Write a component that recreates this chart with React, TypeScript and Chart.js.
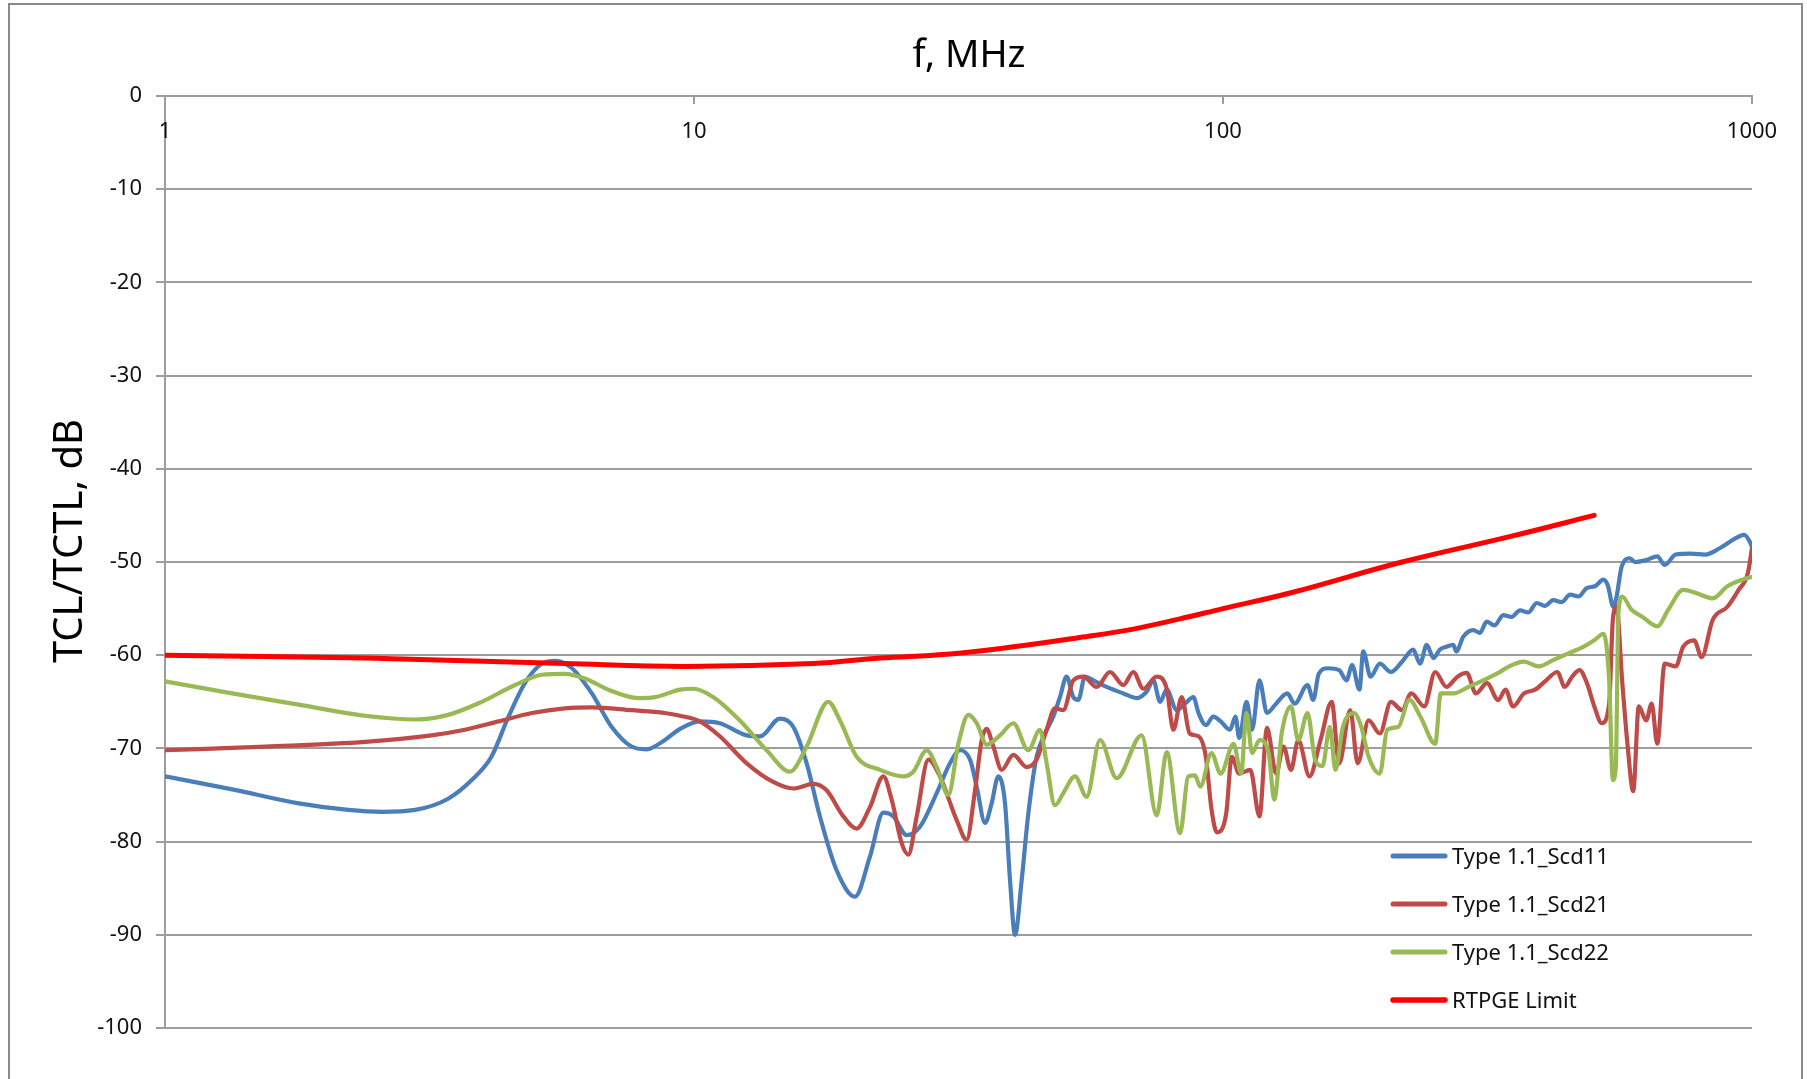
import React, { useEffect, useRef } from "react";
import { Chart, registerables } from "chart.js";

Chart.register(...registerables);

// ---------- data ----------
const X_TICKS = [1, 10, 100, 1000];
const Y_MIN = -100;
const Y_MAX = 0;
const Y_STEP = 10;

const TITLE_X = "f, MHz";
const TITLE_Y = "TCL/TCTL, dB";

const SERIES_NAMES = ["Type 1.1_Scd11", "Type 1.1_Scd21", "Type 1.1_Scd22", "RTPGE Limit"];
const SERIES_COLORS = ["#4a7ebb", "#be4b48", "#98b954", "#ff0000"];

const F_SCD11 = [
  1, 1.34, 1.79, 2.22, 2.57, 2.97, 3.43, 3.8, 4.14, 4.46, 4.79, 5.16, 5.47, 5.88, 6.41, 6.99, 7.62, 8.13, 8.81,
  9.41, 10.26, 11.19, 12.58, 13.33, 14.54, 15.41, 16.33, 17.3, 18.61, 20.15, 21.51, 22.8, 23.82, 25.23, 26.74,
  28.76, 30.47, 31.83, 33.25, 34.23, 35.5, 36.53, 37.61, 38.72, 39.57, 40.45, 41.64, 42.85, 44.43, 46.07, 47.77,
  49.18, 50.62, 52.12, 53.27, 54.84, 56.88, 60.27, 64.8, 68.67, 71.73, 73.85, 76.03, 78.27, 81.75, 84.76, 87.89,
  89.9, 92.8, 95.9, 99.0, 103.1, 105.6, 107.3, 110.8, 113.5, 117.2, 121.1, 126.0, 132.3, 136.6, 144.5, 148.1,
  151.7, 157.9, 165.8, 171.2, 175.4, 181.1, 184.1, 190.1, 197.9, 207.7, 218.0, 228.8, 235.8, 242.7, 250.0, 257.0,
  264.4, 272.5, 276.0, 284.7, 297.4, 306.0, 315.0, 326.0, 338.8, 351.0, 364.3, 378.0, 391.7, 406.0, 421.2, 437.0,
  452.9, 470.0, 487.1, 505.0, 523.6, 533.8, 546.7, 554.7, 567.0, 588.0, 601.1, 630.8, 662.1, 683.8, 717.5, 765.1,
  816.1, 870.3, 928.1, 966.3, 990, 1000,
];
const DB_SCD11 = [
  -73.0, -74.4, -75.9, -76.6, -76.8, -76.6, -75.4, -73.4, -70.9, -66.6, -63.0, -60.9, -60.6, -61.4, -64.1, -67.7,
  -69.8, -70.1, -69.1, -67.9, -67.1, -67.3, -68.6, -68.7, -66.8, -67.7, -71.6, -77.3, -83.1, -85.9, -81.6, -76.9,
  -77.3, -79.3, -78.4, -74.8, -71.6, -70.2, -71.2, -74.1, -78.0, -75.9, -73.0, -75.9, -84.1, -90.0, -84.1, -77.0,
  -70.9, -68.4, -66.6, -64.5, -62.3, -64.5, -64.8, -62.3, -62.7, -63.4, -64.1, -64.6, -63.9, -62.7, -65.0, -63.7,
  -65.9, -65.2, -64.5, -66.2, -67.5, -66.6, -67.1, -68.0, -66.6, -68.9, -65.0, -68.0, -62.7, -66.2, -65.2, -64.1,
  -65.2, -63.2, -64.8, -62.0, -61.4, -61.6, -62.7, -61.05, -63.7, -59.6, -62.3, -60.9, -61.8, -60.7, -59.4, -60.9,
  -58.9, -60.3, -59.4, -59.1, -58.9, -59.6, -58.0, -57.3, -57.6, -56.4, -56.8, -55.7, -55.9, -55.2, -55.4, -54.4,
  -54.7, -54.1, -54.3, -53.5, -53.7, -52.8, -52.6, -51.9, -52.5, -54.8, -53.7, -50.5, -49.6, -50.0, -49.8, -49.4,
  -50.3, -49.2, -49.1, -49.2, -48.5, -47.5, -47.1, -47.8, -48.4,
];

const F_SCD21 = [
  1, 1.55, 2.39, 3.19, 3.69, 4.27, 4.94, 5.7, 6.41, 7.62, 8.81, 9.41, 10.26, 11.19, 12.58, 14.12, 15.41, 16.81,
  17.81, 19.16, 20.3, 21.51, 22.8, 23.64, 24.7, 25.42, 26.36, 27.74, 29.17, 31.37, 32.77, 33.98, 34.99, 35.75,
  36.8, 38.16, 40.15, 42.55, 44.43, 46.41, 48.12, 49.9, 52.12, 54.45, 57.71, 61.15, 64.8, 67.68, 70.69, 74.93,
  78.27, 80.57, 83.54, 86.5, 89.9, 92.8, 95.1, 97.4, 101.4, 103.9, 107.3, 112.6, 117.2, 121.1, 126.0, 130.1,
  134.4, 138.8, 145.7, 152.9, 160.5, 165.8, 174.0, 179.7, 188.5, 197.9, 207.7, 218.0, 226.9, 240.1, 251.9, 264.4,
  277.5, 288.9, 300.7, 315.6, 331.3, 342.1, 353.3, 370.7, 389.0, 408.3, 428.5, 442.6, 457.1, 472.1, 487.5, 503.4,
  519.9, 537.0, 545.7, 554.6, 568.2, 582.1, 596.3, 610.9, 630.8, 646.2, 662.1, 683.8, 717.5, 740.9, 777.5, 803.0,
  842.8, 898.6, 943.1, 982.0, 1000,
];
const DB_SCD21 = [
  -70.2, -69.8, -69.3, -68.6, -68.0, -67.1, -66.2, -65.7, -65.6, -65.9, -66.2, -66.5, -67.1, -68.7, -71.6, -73.6,
  -74.3, -73.8, -74.5, -77.3, -78.6, -76.3, -73.0, -75.5, -80.2, -81.4, -77.3, -71.2, -73.0, -77.7, -79.8, -74.5,
  -69.1, -67.9, -69.8, -72.3, -70.7, -72.0, -71.2, -68.0, -65.7, -65.9, -62.7, -62.3, -63.4, -61.8, -63.2, -61.8,
  -63.6, -62.3, -63.6, -68.0, -64.5, -68.4, -68.7, -70.9, -76.5, -79.0, -77.0, -70.9, -72.7, -72.3, -77.3, -67.8,
  -72.7, -69.8, -72.3, -69.1, -73.0, -69.1, -65.0, -71.6, -65.9, -71.6, -67.0, -68.4, -65.0, -65.9, -64.1, -65.5,
  -61.8, -63.4, -62.3, -61.9, -64.1, -63.0, -64.8, -63.7, -65.5, -64.1, -63.7, -62.7, -61.8, -63.4, -62.3, -61.6,
  -63.0, -65.5, -67.3, -65.2, -56.2, -54.8, -62.7, -69.8, -74.6, -65.5, -67.0, -65.2, -69.5, -60.9, -61.2, -59.1,
  -58.4, -60.2, -56.2, -54.8, -53.0, -51.2, -48.5,
];

const F_SCD22 = [
  1, 1.34, 1.79, 2.39, 2.97, 3.43, 3.97, 4.59, 5.16, 5.7, 6.22, 6.89, 7.85, 8.44, 9.41, 9.97, 10.88, 12.21, 13.72,
  15.18, 16.33, 17.94, 18.88, 20.3, 22.47, 24.88, 25.97, 27.54, 28.76, 30.25, 31.6, 33.01, 34.23, 35.75, 37.88,
  40.15, 42.85, 45.08, 46.41, 48.12, 49.9, 52.5, 55.25, 58.55, 62.95, 70.18, 74.93, 78.27, 82.94, 86.0, 88.5, 90.6,
  95.1, 99.0, 104.7, 108.2, 110.8, 113.5, 117.2, 122.0, 125.0, 129.1, 134.4, 138.8, 144.5, 149.3, 154.2, 159.2,
  163.1, 168.5, 176.8, 182.6, 188.5, 197.9, 204.4, 214.4, 225.1, 236.2, 251.9, 258.0, 273.1, 291.2, 310.6, 331.3,
  347.6, 370.7, 395.4, 421.7, 449.8, 479.7, 503.4, 524.1, 537.0, 545.7, 552.8, 559.0, 568.2, 591.5, 620.8, 662.1,
  694.9, 740.9, 790.2, 842.8, 898.6, 958.5, 1000,
];
const DB_SCD22 = [
  -62.8, -64.1, -65.3, -66.5, -66.9, -66.4, -65.0, -63.2, -62.1, -62.0, -62.5, -63.7, -64.6, -64.5, -63.7, -63.6,
  -64.5, -67.0, -70.2, -72.5, -69.8, -65.0, -67.0, -70.9, -72.3, -73.0, -72.5, -70.2, -72.0, -75.0, -69.5, -66.4,
  -67.3, -69.6, -68.6, -67.3, -70.2, -68.0, -71.6, -76.1, -74.8, -73.0, -75.2, -69.1, -73.2, -68.6, -77.2, -70.4,
  -79.1, -73.0, -72.9, -74.1, -70.5, -72.7, -69.5, -72.7, -66.2, -70.5, -69.1, -70.5, -75.5, -68.4, -65.5, -69.1,
  -66.2, -71.2, -71.9, -67.7, -72.3, -67.7, -66.2, -67.7, -70.9, -72.7, -68.0, -67.7, -64.8, -66.6, -69.5, -64.1,
  -64.1, -63.4, -62.7, -61.9, -61.2, -60.7, -61.2, -60.5, -59.8, -59.1, -58.4, -57.7, -62.7, -73.4, -72.0, -55.5,
  -53.7, -55.1, -55.9, -56.9, -55.1, -53.0, -53.4, -53.9, -52.6, -51.9, -51.6,
];

const F_LIMIT = [1, 2.39, 5.7, 9.6, 16.81, 22.47, 30.0, 40.15, 53.6, 67.68, 82.9, 100, 134.4, 218, 353, 503];
const DB_LIMIT = [-60.0, -60.3, -60.9, -61.2, -60.9, -60.3, -59.9, -59.1, -58.1, -57.2, -56.1, -55.0, -53.3, -50.0, -47.2, -45.0];

// ---------- styling ----------
const FONT = "'Noto Sans', 'DejaVu Sans', sans-serif";
const GRID = "#9d9d9d";
const W = 1807;
const H = 1079;

const toPoints = (fs: number[], ds: number[]) => fs.map((f, i) => ({ x: f, y: ds[i] }));

const overlay = {
  id: "overlay",
  beforeDraw(chart: any) {
    const ctx = chart.ctx;
    ctx.save();
    ctx.fillStyle = "#ffffff";
    ctx.fillRect(0, 0, W, H);
    ctx.strokeStyle = "#8a8a8a";
    ctx.lineWidth = 2;
    ctx.strokeRect(9, 4, 1793, 1200);
    ctx.restore();
  },
  afterDraw(chart: any) {
    const ctx = chart.ctx;
    const xs = chart.scales.x;
    ctx.save();
    ctx.fillStyle = "#111111";
    // x tick labels (below the top axis)
    ctx.font = `22px ${FONT}`;
    ctx.textAlign = "center";
    ctx.textBaseline = "alphabetic";
    X_TICKS.forEach((v) => {
      ctx.fillText(String(v), xs.getPixelForValue(v), 138);
    });
    // x title
    ctx.font = `38px ${FONT}`;
    ctx.fillStyle = "#000000";
    ctx.fillText(TITLE_X, 969, 67);
    // y title
    ctx.save();
    ctx.translate(82, 541);
    ctx.rotate(-Math.PI / 2);
    ctx.font = `40px ${FONT}`;
    ctx.textAlign = "center";
    ctx.textBaseline = "alphabetic";
    ctx.fillText(TITLE_Y, 0, 0);
    ctx.restore();
    // legend
    const rows = [856, 904, 952, 1000];
    SERIES_NAMES.forEach((name, i) => {
      const y = rows[i];
      ctx.strokeStyle = SERIES_COLORS[i];
      ctx.lineWidth = i === 3 ? 5.5 : 5;
      ctx.lineCap = "round";
      ctx.beginPath();
      ctx.moveTo(1393, y);
      ctx.lineTo(1445, y);
      ctx.stroke();
      ctx.fillStyle = "#111111";
      ctx.font = `22px ${FONT}`;
      ctx.textAlign = "left";
      ctx.textBaseline = "alphabetic";
      ctx.fillText(name, 1452, y + 8);
    });
    ctx.restore();
  },
};

export default function App() {
  const ref = useRef<HTMLCanvasElement | null>(null);

  useEffect(() => {
    if (!ref.current) return;
    const sets = [
      toPoints(F_SCD11, DB_SCD11),
      toPoints(F_SCD21, DB_SCD21),
      toPoints(F_SCD22, DB_SCD22),
      toPoints(F_LIMIT, DB_LIMIT),
    ];
    const chart = new Chart(ref.current, {
      type: "line",
      data: {
        datasets: sets.map((d, i) => ({
          label: SERIES_NAMES[i],
          data: d,
          borderColor: SERIES_COLORS[i],
          backgroundColor: SERIES_COLORS[i],
          borderWidth: i === 3 ? 5 : 4.2,
          borderJoinStyle: "round",
          borderCapStyle: "round",
          pointRadius: 0,
          fill: false,
          cubicInterpolationMode: i === 3 ? "default" : "monotone",
          tension: i === 3 ? 0.4 : 0,
          order: 3 - i,
        })),
      },
      options: {
        responsive: false,
        animation: false,
        devicePixelRatio: 1,
        layout: { padding: { left: 0, top: 0, right: 55, bottom: 51 } },
        plugins: {
          legend: { display: false },
          tooltip: { enabled: false },
          title: { display: false },
        },
        scales: {
          x: {
            type: "logarithmic",
            position: "top",
            min: 1,
            max: 1000,
            afterBuildTicks: (s: any) => {
              s.ticks = X_TICKS.map((v) => ({ value: v }));
            },
            afterFit: (s: any) => {
              s.height = 96;
            },
            ticks: { display: false },
            grid: { drawOnChartArea: false, drawTicks: true, tickLength: -8, color: GRID, lineWidth: 2 },
            border: { display: true, color: GRID, width: 2 },
          },
          y: {
            type: "linear",
            min: Y_MIN,
            max: Y_MAX,
            afterFit: (s: any) => {
              s.width = 165;
            },
            ticks: {
              stepSize: Y_STEP,
              padding: 14,
              color: "#111111",
              font: { family: FONT, size: 22 },
            },
            grid: { color: GRID, lineWidth: 2, tickLength: 9 },
            border: { display: true, color: GRID, width: 2 },
          },
        },
      } as any,
      plugins: [overlay],
    });
    return () => chart.destroy();
  }, []);

  return (
    <div style={{ position: "fixed", left: 0, top: 0, width: W, height: H, background: "#fff" }}>
      <canvas ref={ref} width={W} height={H} style={{ display: "block", width: W, height: H }} />
    </div>
  );
}
